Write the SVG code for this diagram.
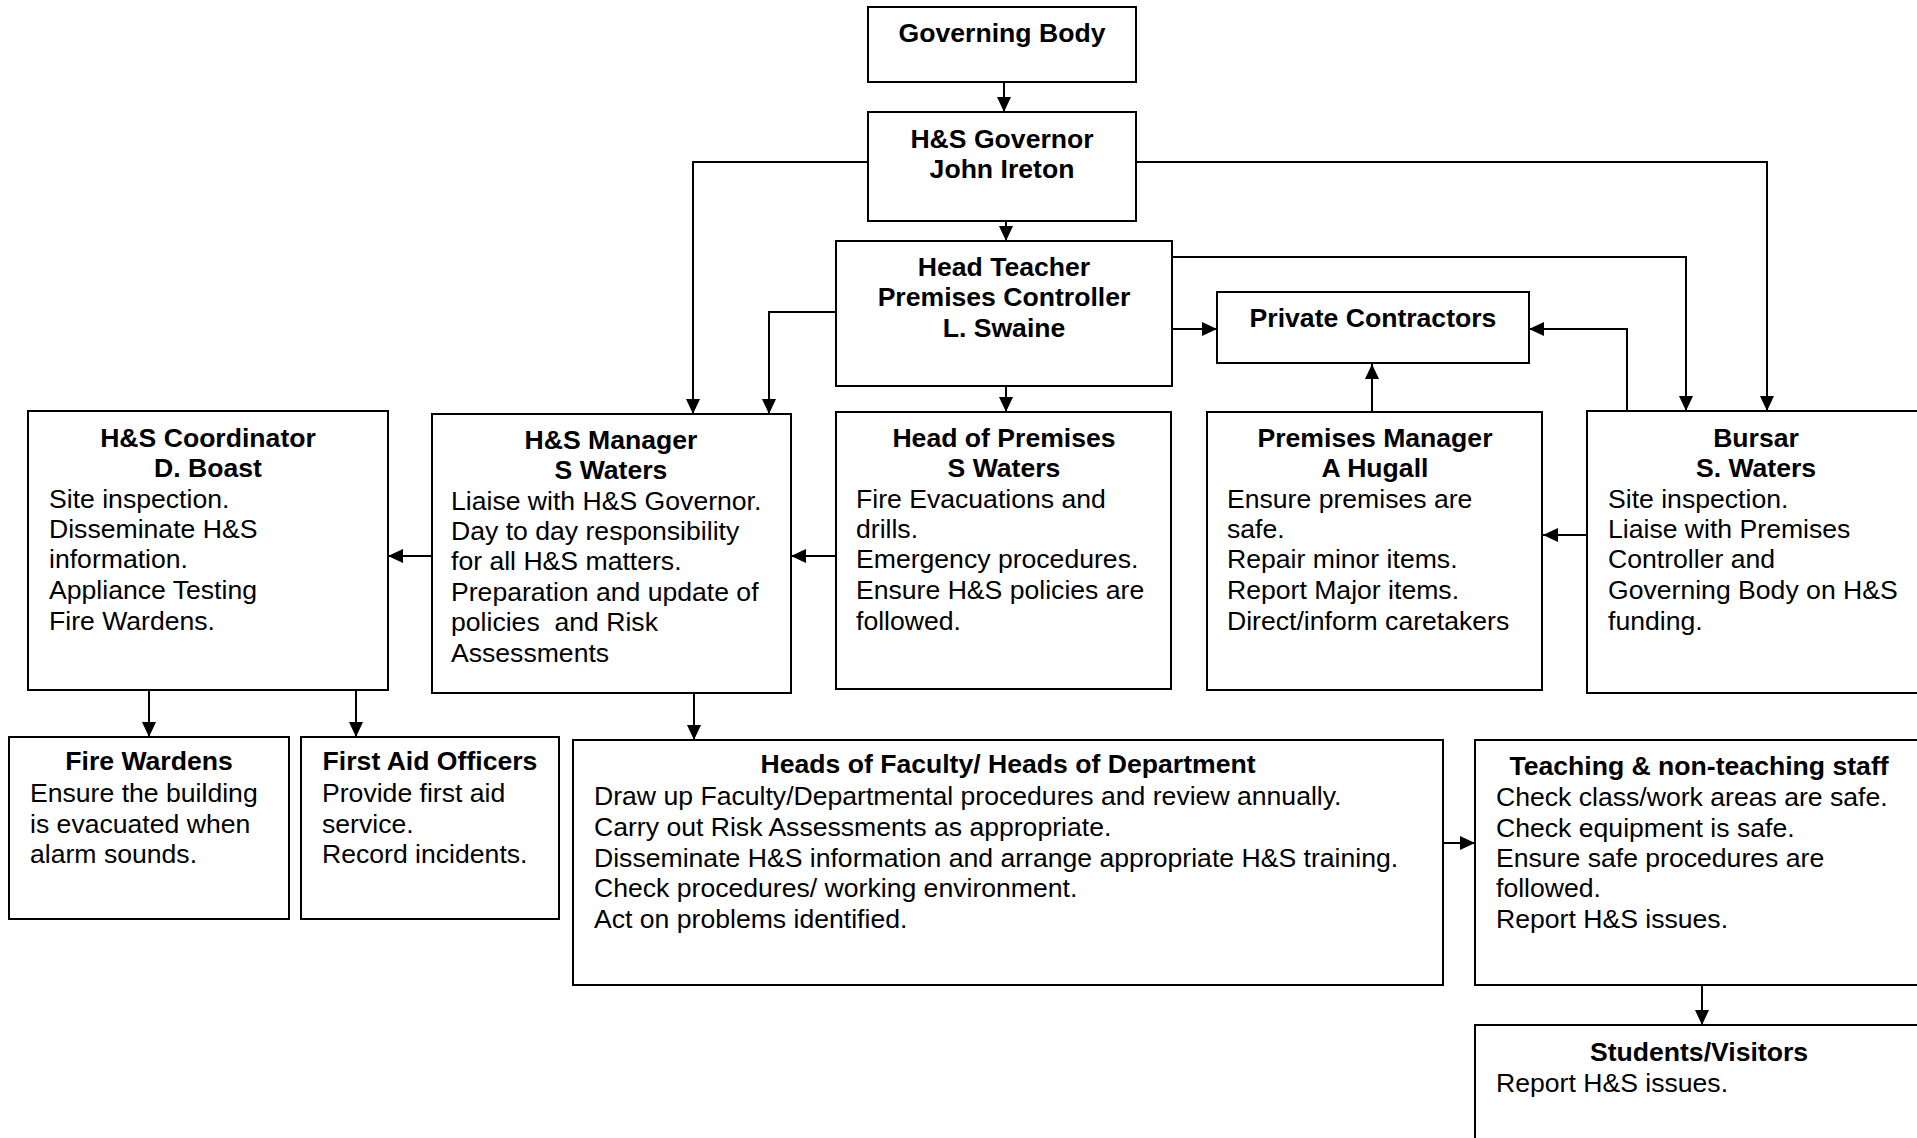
<svg xmlns="http://www.w3.org/2000/svg" width="1917" height="1138" viewBox="0 0 1917 1138">
<style>
.box{fill:#fff;stroke:#000;stroke-width:2}
.t{font-family:"Liberation Sans",Arial,sans-serif;font-size:26.6px;fill:#000}
.h{font-weight:bold;text-anchor:middle}
.c{fill:none;stroke:#000;stroke-width:2}
</style>
<defs>
<marker id="ar" markerUnits="userSpaceOnUse" markerWidth="16" markerHeight="14" refX="15" refY="7" orient="auto" viewBox="0 0 16 14">
<path d="M0,0 L15,7 L0,14 z" fill="#000"/>
</marker>
</defs>
<rect width="1917" height="1138" fill="#fff"/>
<g id="connectors">
<path class="c" d="M1004,83 V112" marker-end="url(#ar)"/>
<path class="c" d="M1006,221 V241" marker-end="url(#ar)"/>
<path class="c" d="M869,162 H693 V414" marker-end="url(#ar)"/>
<path class="c" d="M1136,162 H1767 V411" marker-end="url(#ar)"/>
<path class="c" d="M836,312 H769 V414" marker-end="url(#ar)"/>
<path class="c" d="M1172,257 H1686 V411" marker-end="url(#ar)"/>
<path class="c" d="M1172,329 H1217" marker-end="url(#ar)"/>
<path class="c" d="M1006,386 V412" marker-end="url(#ar)"/>
<path class="c" d="M1372,412 V364" marker-end="url(#ar)"/>
<path class="c" d="M1627,411 V329 H1529" marker-end="url(#ar)"/>
<path class="c" d="M1587,535 H1543" marker-end="url(#ar)"/>
<path class="c" d="M836,556 H791" marker-end="url(#ar)"/>
<path class="c" d="M432,556 H388" marker-end="url(#ar)"/>
<path class="c" d="M149,690 V737" marker-end="url(#ar)"/>
<path class="c" d="M356,690 V737" marker-end="url(#ar)"/>
<path class="c" d="M694,693 V740" marker-end="url(#ar)"/>
<path class="c" d="M1443,843 H1475" marker-end="url(#ar)"/>
<path class="c" d="M1702,985 V1025" marker-end="url(#ar)"/>
</g>
<g id="governing-body">
<rect class="box" x="868" y="7" width="268" height="75"/>
<text class="t h" x="1002" y="42">Governing Body</text>
</g>
<g id="hs-governor">
<rect class="box" x="868" y="112" width="268" height="109"/>
<text class="t h" x="1002" y="148">H&amp;S Governor</text>
<text class="t h" x="1002" y="178">John Ireton</text>
</g>
<g id="head-teacher">
<rect class="box" x="836" y="241" width="336" height="145"/>
<text class="t h" x="1004" y="276">Head Teacher</text>
<text class="t h" x="1004" y="306">Premises Controller</text>
<text class="t h" x="1004" y="337">L. Swaine</text>
</g>
<g id="private-contractors">
<rect class="box" x="1217" y="292" width="312" height="71"/>
<text class="t h" x="1373" y="327">Private Contractors</text>
</g>
<g id="hs-coordinator">
<rect class="box" x="28" y="411" width="360" height="279"/>
<text class="t h" x="208" y="447">H&amp;S Coordinator</text>
<text class="t h" x="208" y="477">D. Boast</text>
<text class="t" x="49" y="508">Site inspection.</text>
<text class="t" x="49" y="538">Disseminate H&amp;S</text>
<text class="t" x="49" y="568">information.</text>
<text class="t" x="49" y="599">Appliance Testing</text>
<text class="t" x="49" y="630">Fire Wardens.</text>
</g>
<g id="hs-manager">
<rect class="box" x="432" y="414" width="359" height="279"/>
<text class="t h" x="611" y="449">H&amp;S Manager</text>
<text class="t h" x="611" y="479">S Waters</text>
<text class="t" x="451" y="510">Liaise with H&amp;S Governor.</text>
<text class="t" x="451" y="540">Day to day responsibility</text>
<text class="t" x="451" y="570">for all H&amp;S matters.</text>
<text class="t" x="451" y="601">Preparation and update of</text>
<text class="t" x="451" y="631" xml:space="preserve">policies  and Risk</text>
<text class="t" x="451" y="662">Assessments</text>
</g>
<g id="head-of-premises">
<rect class="box" x="836" y="412" width="335" height="277"/>
<text class="t h" x="1004" y="447">Head of Premises</text>
<text class="t h" x="1004" y="477">S Waters</text>
<text class="t" x="856" y="508">Fire Evacuations and</text>
<text class="t" x="856" y="538">drills.</text>
<text class="t" x="856" y="568">Emergency procedures.</text>
<text class="t" x="856" y="599">Ensure H&amp;S policies are</text>
<text class="t" x="856" y="630">followed.</text>
</g>
<g id="premises-manager">
<rect class="box" x="1207" y="412" width="335" height="278"/>
<text class="t h" x="1375" y="447">Premises Manager</text>
<text class="t h" x="1375" y="477">A Hugall</text>
<text class="t" x="1227" y="508">Ensure premises are</text>
<text class="t" x="1227" y="538">safe.</text>
<text class="t" x="1227" y="568">Repair minor items.</text>
<text class="t" x="1227" y="599">Report Major items.</text>
<text class="t" x="1227" y="630">Direct/inform caretakers</text>
</g>
<g id="bursar">
<rect class="box" x="1587" y="411" width="338" height="282"/>
<text class="t h" x="1756" y="447">Bursar</text>
<text class="t h" x="1756" y="477">S. Waters</text>
<text class="t" x="1608" y="508">Site inspection.</text>
<text class="t" x="1608" y="538">Liaise with Premises</text>
<text class="t" x="1608" y="568">Controller and</text>
<text class="t" x="1608" y="599">Governing Body on H&amp;S</text>
<text class="t" x="1608" y="630">funding.</text>
</g>
<g id="fire-wardens">
<rect class="box" x="9" y="737" width="280" height="182"/>
<text class="t h" x="149" y="770">Fire Wardens</text>
<text class="t" x="30" y="802">Ensure the building</text>
<text class="t" x="30" y="833">is evacuated when</text>
<text class="t" x="30" y="863">alarm sounds.</text>
</g>
<g id="first-aid-officers">
<rect class="box" x="301" y="737" width="258" height="182"/>
<text class="t h" x="430" y="770">First Aid Officers</text>
<text class="t" x="322" y="802">Provide first aid</text>
<text class="t" x="322" y="833">service.</text>
<text class="t" x="322" y="863">Record incidents.</text>
</g>
<g id="heads-of-faculty">
<rect class="box" x="573" y="740" width="870" height="245"/>
<text class="t h" x="1008" y="773">Heads of Faculty/ Heads of Department</text>
<text class="t" x="594" y="805">Draw up Faculty/Departmental procedures and review annually.</text>
<text class="t" x="594" y="836">Carry out Risk Assessments as appropriate.</text>
<text class="t" x="594" y="867">Disseminate H&amp;S information and arrange appropriate H&amp;S training.</text>
<text class="t" x="594" y="897">Check procedures/ working environment.</text>
<text class="t" x="594" y="928">Act on problems identified.</text>
</g>
<g id="teaching-staff">
<rect class="box" x="1475" y="740" width="450" height="245"/>
<text class="t h" x="1699" y="775">Teaching &amp; non-teaching staff</text>
<text class="t" x="1496" y="806">Check class/work areas are safe.</text>
<text class="t" x="1496" y="837">Check equipment is safe.</text>
<text class="t" x="1496" y="867">Ensure safe procedures are</text>
<text class="t" x="1496" y="897">followed.</text>
<text class="t" x="1496" y="928">Report H&amp;S issues.</text>
</g>
<g id="students-visitors">
<rect class="box" x="1475" y="1025" width="450" height="125"/>
<text class="t h" x="1699" y="1061">Students/Visitors</text>
<text class="t" x="1496" y="1092">Report H&amp;S issues.</text>
</g>
</svg>
